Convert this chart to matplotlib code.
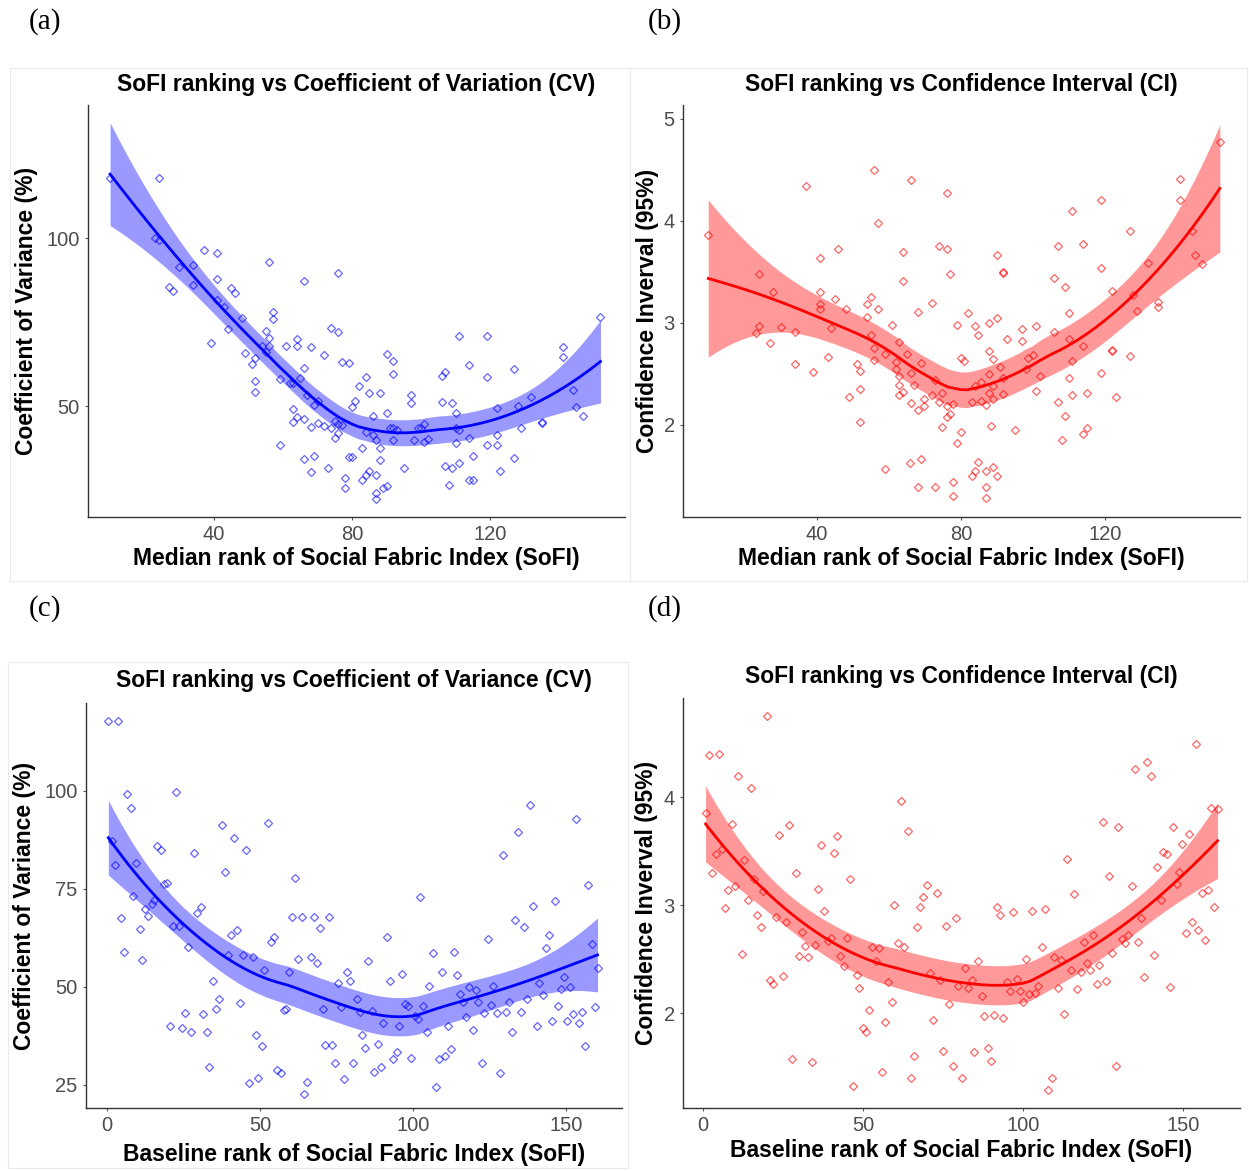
import numpy as np
import matplotlib
matplotlib.use("Agg")
import matplotlib.pyplot as plt
from matplotlib.patches import Rectangle

# ---------------- data ----------------
a_x = [9.9, 24, 23, 24, 37, 41, 56, 30, 34, 66, 76, 27, 28, 34, 41, 45, 46, 41, 43, 57, 57, 48, 44, 55, 56,
       74, 76, 39, 54, 56, 55, 61, 64, 64, 68, 72, 77, 79, 49, 52, 51, 52, 52, 59, 62, 63, 65, 66, 67, 69,
       70, 82, 84, 85, 88, 81, 80, 63, 64, 63, 66, 68, 70, 72, 74, 75, 76, 77, 75, 76, 59, 66, 69, 68, 73,
       78, 78, 79, 80, 83, 83, 84, 85, 87, 86, 84, 86, 87, 88, 88, 87, 87, 89, 90, 92, 92, 97, 97, 90, 91,
       92, 93, 92, 95, 90, 98, 99, 100, 101, 101, 102, 106, 106, 107, 109, 110, 110, 111, 110, 111, 107,
       109, 111, 108, 114, 114, 115, 114, 115, 119, 119, 119, 122, 122, 122, 123, 127, 128, 129, 127, 132,
       135, 135, 141, 141, 144, 145, 147, 152]
a_y = [118, 118, 100, 99.5, 96.4, 95.6, 92.9, 91.4, 92, 87.2, 89.7, 85.4, 84.2, 86, 87.9, 85, 83.6, 81.5,
       79.4, 78, 76, 76.2, 73, 72.4, 70.3, 73.3, 72, 68.7, 68, 68, 66, 68, 70, 68, 67.7, 65.2, 63.2, 62.8,
       65.8, 64.4, 62.5, 57.4, 54.2, 58, 57, 57, 58.4, 61.4, 53.3, 50.4, 51.5, 56, 58.7, 54, 53.8, 51.5,
       49.7, 49.2, 46.8, 45.3, 46.1, 43.8, 45, 44, 43.5, 45.5, 44.8, 44.3, 40.6, 41.9, 38.4, 34.2, 35.2,
       30.4, 31.5, 28.5, 25.5, 35, 35, 37.6, 28, 29.5, 30.7, 29.5, 47, 42.4, 41.4, 39.9, 37.4, 34, 24.2,
       22.5, 25.7, 65.5, 63.4, 59.7, 53.3, 51, 47.8, 43.4, 43.4, 43, 39.9, 31.5, 26.3, 39.9, 43.4, 43.4,
       44.8, 39.4, 40.1, 51.3, 58.9, 60.2, 51, 48, 43.4, 42.9, 38.9, 71, 32.2, 31.6, 33.1, 26.5, 62.2, 40.6,
       35.1, 28, 28, 70.8, 58.7, 38.4, 49.3, 41.4, 38.4, 30.7, 60.9, 50.1, 43.4, 34.7, 52.8, 45, 45.3,
       67.7, 64.7, 54.8, 49.8, 47, 76.4]

b_x = [9.8, 23.9, 27.9, 23.9, 23, 26.9, 29.9, 33.9, 33.9, 36.9, 40.8, 40.8, 40.8, 40.8, 39, 45.9, 45, 48,
       43.9, 43, 51, 52, 48.9, 52, 52, 55.9, 56.9, 54.9, 54, 56.9, 54, 54.9, 55.9, 55.9, 58.9, 60.9, 62.9,
       58.9, 64, 64, 66, 68, 64.9, 61.9, 61.9, 62.9, 62.9, 62.9, 64, 66, 67, 68.9, 66, 68, 69.8, 69.8,
       71.9, 72.8, 71.9, 73.9, 76, 76, 76.9, 73.9, 74.8, 76, 76, 76.9, 77.9, 74.8, 65.9, 68.9, 68, 72.8,
       77.9, 77.9, 79, 79.9, 80.8, 81.9, 83.9, 84.8, 87.9, 89.9, 89.9, 91.8, 91.8, 87.9, 89, 90.8, 87.9,
       91.8, 83.9, 85.7, 83, 85.7, 86.9, 87.9, 89, 89, 91.8, 79.9, 79, 88.3, 95, 84.8, 83.9, 83, 86.9, 89,
       89.9, 86.9, 86.9, 92.9, 96.9, 96.9, 100.8, 98.7, 99.9, 98, 101.9, 100.8, 105.9, 106.9, 109, 110.9,
       114, 110, 105.9, 110, 114, 110.9, 110, 110.9, 114.9, 106.9, 109, 108, 114, 114.9, 118.9, 118.9,
       121.9, 118.9, 121.9, 121.9, 123, 126.9, 126.9, 127.9, 129, 131.9, 134.8, 134.8, 140.8, 140.8,
       144.1, 145, 147, 151.9]
b_y = [3.86, 3.48, 3.30, 2.97, 2.90, 2.80, 2.96, 2.91, 2.60, 4.34, 3.64, 3.30, 3.19, 3.14, 2.52, 3.73,
       3.24, 3.14, 2.95, 2.67, 2.60, 2.53, 2.27, 2.35, 2.03, 4.50, 3.98, 3.25, 3.19, 3.14, 3.06, 2.88,
       2.75, 2.64, 2.70, 2.98, 2.81, 1.57, 3.70, 3.41, 4.40, 3.11, 2.70, 2.62, 2.55, 2.48, 2.39, 2.29,
       2.32, 2.51, 2.39, 2.61, 2.22, 2.15, 2.19, 2.25, 2.29, 2.44, 3.20, 3.75, 3.73, 4.27, 3.48, 2.23,
       2.31, 2.19, 2.08, 2.11, 2.21, 1.98, 1.63, 1.67, 1.39, 1.39, 1.44, 1.30, 2.98, 2.66, 2.63, 3.10,
       2.97, 2.88, 3.00, 3.05, 3.67, 3.50, 3.49, 2.73, 2.65, 2.57, 2.50, 2.46, 2.38, 2.42, 2.23, 2.24,
       2.20, 2.31, 2.25, 2.38, 2.30, 1.93, 1.82, 1.99, 1.95, 1.64, 1.55, 1.50, 1.55, 1.59, 1.50, 1.39,
       1.28, 2.84, 2.94, 2.82, 2.97, 2.66, 2.69, 2.55, 2.48, 2.33, 3.44, 3.75, 3.35, 4.10, 3.77, 3.10,
       2.91, 2.84, 2.77, 2.63, 2.46, 2.29, 2.31, 2.23, 2.09, 1.85, 1.91, 1.97, 4.21, 3.54, 3.31, 2.51,
       2.74, 2.73, 2.27, 3.90, 2.68, 3.27, 3.12, 3.59, 3.21, 3.16, 4.41, 4.21, 3.90, 3.67, 3.58, 4.77]

c_x = [0.4, 3.7, 6.6, 7.7, 22.5, 1.5, 2.6, 9.5, 8.6, 4.6, 5.6, 10.6, 11.5, 12.4, 13.5, 14.6, 15.4, 16.4,
       17.6, 18.6, 19.7, 21.5, 23.6, 26.6, 28.4, 29.5, 30.6, 20.6, 24.4, 25.5, 27.5, 31.5, 32.6, 35.6,
       36.6, 34.5, 33.4, 37.5, 41.5, 45.5, 38.6, 40.4, 42.6, 39.6, 43.5, 44.5, 47.6, 51.4, 52.5, 53.5,
       54.6, 48.6, 50.6, 46.5, 49.4, 55.4, 56.8, 57.8, 58.5, 59.5, 61.4, 60.4, 63.6, 67.5, 69.6, 72.5,
       62.5, 66.6, 68.5, 70.5, 71.2, 73.6, 74.5, 65.5, 64.4, 77.5, 76.4, 75.6, 78.5, 79.4, 81.6, 82.5,
       83.4, 80.5, 84.4, 85.4, 86.5, 88.5, 87.4, 89.5, 91.4, 92.5, 90.3, 95.4, 93.6, 94.7, 96.5, 97.4,
       98.5, 99.3, 100.7, 101.5, 102.3, 103.4, 104.5, 105.3, 106.4, 107.5, 108.5, 110.5, 112.4, 109.6,
       111.3, 113.4, 114.3, 115.4, 116.4, 117.3, 118.4, 120.5, 121.3, 119.5, 122.4, 123.3, 124.4, 125.4,
       126.2, 127.3, 128.4, 129.3, 130.4, 131.4, 132.3, 133.3, 134.4, 135.3, 136.3, 137.4, 138.2, 139.3,
       140.4, 141.3, 142.4, 143.4, 144.3, 145.3, 146.4, 147.4, 148.3, 149.3, 151.3, 150.4, 152.4, 154.2,
       155.3, 153.3, 156.2, 157.3, 158.4, 159.5, 160.3]
c_y = [117.7, 117.9, 99.3, 95.5, 99.7, 87.2, 81.1, 81.5, 73.2, 67.5, 58.8, 64.8, 56.9, 69.9, 68.1, 71.1,
       72.2, 86, 85, 76.2, 76.5, 65.6, 65.4, 60.1, 84.1, 68.8, 70.3, 39.9, 39.5, 43.4, 38.4, 43.1, 38.4,
       44.4, 47, 51.5, 29.5, 91.2, 87.9, 84.9, 79.4, 63.3, 64.4, 58, 46, 58.2, 57.5, 54.2, 91.9, 61.4,
       62.6, 37.8, 35, 25.6, 26.7, 28.8, 28.1, 44.1, 44.4, 53.9, 77.7, 67.7, 67.9, 67.9, 65, 67.7, 57.1,
       57.5, 56, 44.3, 35.2, 35.2, 30.7, 25.8, 22.6, 26.4, 44.8, 51.1, 53.9, 51.4, 46.9, 43.7, 37.8, 30.5,
       34.3, 56.7, 43.9, 35.5, 28.2, 29.5, 62.7, 51.4, 40.7, 40.1, 31.6, 33.3, 53.3, 45.7, 45.2, 31.8,
       42.6, 41.7, 73, 45, 38.6, 50.3, 58.6, 24.4, 31.5, 32.4, 34.1, 53.9, 40, 58.8, 53.1, 48.1, 46.1,
       42.4, 49.9, 49.2, 46.2, 39, 30.7, 43.3, 62.2, 45.4, 50.3, 43.3, 28.1, 83.7, 43.7, 46.1, 38.4, 67.1,
       89.5, 43.5, 65.2, 46.8, 96.3, 70.7, 39.9, 51.1, 47.8, 59.9, 63.1, 41.3, 72, 45, 49.4, 52.6, 49.9,
       41.4, 43.1, 40.7, 43.5, 92.8, 34.8, 76, 60.9, 44.8, 54.7]

d_x = [0.8, 1.9, 5, 19.9, 10.8, 15, 9, 4, 5.8, 2.9, 12.9, 15.9, 7.9, 10, 6.9, 14, 18.8, 17, 18, 12.1, 23.8,
       27, 29, 22.8, 25.9, 20.9, 22, 24.9, 30.8, 31.9, 35, 30, 32.9, 35.8, 36.9, 37.9, 40.9, 42, 39, 40,
       45.1, 42.8, 44.1, 45.9, 48, 48.8, 51.9, 49.9, 50.9, 27.7, 34, 47, 55.8, 52.9, 55, 54.1, 57.9, 59,
       56.9, 59.8, 60.8, 62.9, 61.9, 64, 67, 67.8, 68.9, 69.9, 73, 75.9, 70.9, 74.1, 76.9, 72, 65.9, 65,
       74.9, 79, 81.9, 79.8, 82.9, 84, 78, 80.8, 85.8, 87.1, 87.9, 91, 93.8, 84.8, 89, 90, 91.8, 92.8, 97,
       94.9, 95.9, 98, 99.1, 99.9, 100.9, 102, 103.8, 104.8, 102.9, 106.9, 105.8, 107.9, 109, 109.8,
       111.9, 110.8, 112.9, 113.8, 115, 116, 117, 118, 119.1, 120.1, 120.9, 122, 123, 123.8, 125.9, 124.9,
       126.9, 127.9, 129, 129.8, 130.8, 131.9, 132.9, 134, 135, 138.8, 139.9, 135.8, 136.9, 137.9, 140.9,
       141.8, 143, 143.8, 144.9, 145.9, 146.8, 148, 148.8, 149.8, 151.9, 150.8, 152.9, 154.8, 156.9, 154,
       155.8, 157.9, 158.8, 160.8, 159.8]
d_y = [3.85, 4.39, 4.40, 4.75, 4.20, 4.09, 3.75, 3.47, 3.52, 3.30, 3.42, 3.24, 3.14, 3.18, 2.97, 3.05,
       3.13, 2.91, 2.80, 2.55, 3.65, 3.74, 3.30, 2.89, 2.84, 2.31, 2.27, 2.34, 2.75, 2.62, 2.63, 2.53,
       2.52, 3.15, 3.56, 2.95, 3.48, 3.64, 2.67, 2.70, 2.70, 2.53, 2.44, 3.24, 2.35, 2.23, 2.03, 1.86,
       1.82, 1.57, 1.55, 1.32, 1.45, 2.61, 2.60, 2.48, 2.29, 2.10, 1.92, 3.00, 2.65, 2.61, 3.97, 3.69,
       2.80, 2.98, 3.08, 3.19, 3.11, 2.81, 2.37, 2.31, 2.08, 1.94, 1.60, 1.40, 1.65, 2.88, 2.42, 2.25,
       2.23, 2.31, 1.51, 1.40, 2.48, 2.16, 1.97, 1.98, 1.95, 1.64, 1.68, 1.56, 2.98, 2.91, 2.94, 2.29,
       2.20, 2.32, 2.20, 2.10, 2.50, 2.18, 2.19, 2.25, 2.95, 2.96, 2.61, 1.29, 1.40, 2.52, 2.49, 2.23,
       1.99, 3.43, 2.40, 3.10, 2.22, 2.38, 2.66, 2.46, 2.40, 2.72, 2.27, 2.45, 2.30, 3.77, 3.27, 2.56,
       1.51, 3.72, 2.69, 2.65, 2.72, 3.18, 4.26, 4.33, 4.20, 2.66, 2.88, 2.33, 2.54, 3.35, 3.05, 3.49,
       3.47, 2.24, 3.72, 3.20, 3.31, 3.57, 3.66, 2.74, 2.84, 2.77, 2.68, 4.49, 3.11, 3.14, 3.90, 3.89,
       2.98]

titles = ["SoFI ranking vs Coefficient of Variation (CV)",
          "SoFI ranking vs Confidence Interval (CI)",
          "SoFI ranking vs Coefficient of Variance (CV)",
          "SoFI ranking vs Confidence Interval (CI)"]
xlabels = ["Median rank of Social Fabric Index (SoFI)",
           "Median rank of Social Fabric Index (SoFI)",
           "Baseline rank of Social Fabric Index (SoFI)",
           "Baseline rank of Social Fabric Index (SoFI)"]
ylabels = ["Coefficient of Variance (%)", "Confidence Inverval (95%)",
           "Coefficient of Variance (%)", "Confidence Inverval (95%)"]
panel_tags = ["(a)", "(b)", "(c)", "(d)"]
xticks_ab = [40, 80, 120]
xticks_cd = [0, 50, 100, 150]
yticks_a = [50, 100]
yticks_b = [2, 3, 4, 5]
yticks_c = [25, 50, 75, 100]
yticks_d = [2, 3, 4]


# ---------------- loess (as geom_smooth: span .75, degree 2, 95% CI) ----------------
def t975(df):
    z = 1.959964
    return z + (z**3 + z) / (4 * df) + (5 * z**5 + 16 * z**3 + 3 * z) / (96 * df**2)


def loess(x, y, n_out=80, span=0.75):
    x = np.asarray(x, float)
    y = np.asarray(y, float)
    n = len(x)
    q = int(np.floor(n * span))

    def lvec(x0):
        d = np.abs(x - x0)
        h = np.sort(d)[q - 1]
        w = np.clip(1 - (d / h) ** 3, 0, None) ** 3
        X = np.column_stack([np.ones(n), x - x0, (x - x0) ** 2])
        XtW = X.T * w
        return np.linalg.solve(XtW @ X, XtW)[0]

    L = np.array([lvec(v) for v in x])
    res = y - L @ y
    M = np.eye(n) - L
    MM = M.T @ M
    d1 = np.trace(MM)
    d2 = np.trace(MM @ MM)
    s = np.sqrt(np.sum(res**2) / d1)
    df = d1**2 / d2
    xs = np.linspace(x.min(), x.max(), n_out)
    Ls = np.array([lvec(v) for v in xs])
    fit = Ls @ y
    se = s * np.sqrt(np.sum(Ls**2, axis=1))
    t = t975(df)
    return xs, fit, fit - t * se, fit + t * se


# ---------------- layout ----------------
W, H = 1249, 1171
fig = plt.figure(figsize=(W / 100, H / 100), dpi=100)
fig.patch.set_facecolor("white")
plt.rcParams["font.family"] = ["Liberation Sans", "DejaVu Sans"]

FS_TITLE = 16.5
FS_TICK = 14.5


def rect(l, r, t, b):
    return [l / W, 1 - b / H, (r - l) / W, (b - t) / H]


def ftext(x, y, s, **kw):
    fig.text(x / W, 1 - y / H, s, **kw)


# light frames around the embedded panels
for (l, t, r, b) in [(10, 68, 630, 581), (630, 68, 1247, 581), (8, 662, 628, 1168)]:
    fig.add_artist(Rectangle((l / W, 1 - b / H), (r - l) / W, (b - t) / H,
                             transform=fig.transFigure, fill=False,
                             edgecolor="#ebebeb", linewidth=0.8))

panels = [
    dict(x=a_x, y=a_y, col="#0000FF", box=(88, 625, 105, 517), xlim=(3.5, 159.1), ylim=(17.0, 139.6),
         xt=xticks_ab, yt=yticks_a, title_y=85, xl_y=559, yl_x=27, tag=(45, 22)),
    dict(x=b_x, y=b_y, col="#FF0000", box=(683, 1240, 105, 517), xlim=(2.8, 157.5), ylim=(1.098, 5.137),
         xt=xticks_ab, yt=yticks_b, title_y=85, xl_y=559, yl_x=648, tag=(665, 22)),
    dict(x=c_x, y=c_y, col="#0000FF", box=(86, 622, 703, 1108), xlim=(-6.9, 168.3), ylim=(19.1, 122.4),
         xt=xticks_cd, yt=yticks_c, title_y=681, xl_y=1155, yl_x=25, tag=(45, 609)),
    dict(x=d_x, y=d_y, col="#FF0000", box=(683, 1240, 698, 1108), xlim=(-6.25, 167.8), ylim=(1.12, 4.92),
         xt=xticks_cd, yt=yticks_d, title_y=677, xl_y=1150, yl_x=646, tag=(665, 609)),
]

for i, p in enumerate(panels):
    l, r, t, b = p["box"]
    ax = fig.add_axes(rect(l, r, t, b))
    ax.plot(p["x"], p["y"], linestyle="none", marker="D", markersize=4.0,
            markerfacecolor="none", markeredgecolor=p["col"], markeredgewidth=0.9,
            alpha=0.6, zorder=2)
    xs, fit, lo, hi = loess(p["x"], p["y"])
    ax.fill_between(xs, lo, hi, color=p["col"], alpha=0.4, linewidth=0, zorder=3)
    ax.plot(xs, fit, color=p["col"], linewidth=2.0, zorder=4)
    ax.set_xlim(*p["xlim"])
    ax.set_ylim(*p["ylim"])
    ax.set_xticks(p["xt"])
    ax.set_yticks(p["yt"])
    for s in ["top", "right"]:
        ax.spines[s].set_visible(False)
    for s in ["left", "bottom"]:
        ax.spines[s].set_linewidth(1.0)
        ax.spines[s].set_color("#333333")
    ax.tick_params(axis="both", length=2.5, width=0.8, color="#555555",
                   labelsize=FS_TICK, labelcolor="#4D4D4D", pad=3.5)
    ax.set_facecolor("white")

    cx = (l + r) / 2
    ftext(cx, p["title_y"], titles[i], ha="center", va="center", fontsize=FS_TITLE, fontweight="bold")
    ftext(cx, p["xl_y"], xlabels[i], ha="center", va="center", fontsize=FS_TITLE, fontweight="bold")
    ftext(p["yl_x"], (t + b) / 2, ylabels[i], ha="center", va="center", rotation=90,
          fontsize=FS_TITLE, fontweight="bold")
    ftext(p["tag"][0], p["tag"][1], panel_tags[i], ha="center", va="center",
          fontsize=21, family=["Liberation Serif", "DejaVu Serif"])

fig.savefig("out.png", dpi=100, facecolor="white")
